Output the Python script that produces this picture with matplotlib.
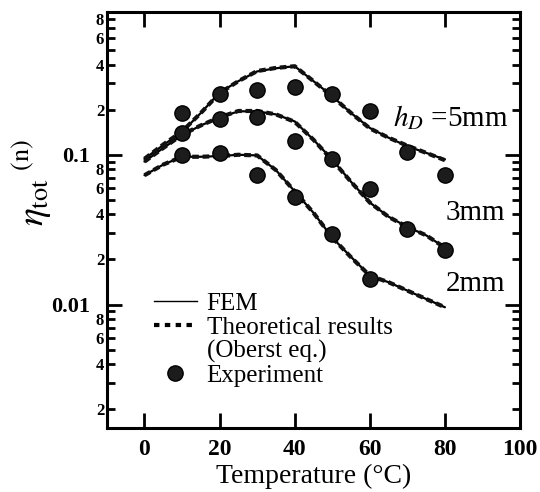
import numpy as np
import matplotlib
matplotlib.use("Agg")
import matplotlib.pyplot as plt
from matplotlib.lines import Line2D
from matplotlib.ticker import FixedLocator, FuncFormatter, LogLocator, NullLocator

plt.rcParams["font.family"] = ["Liberation Serif", "DejaVu Serif"]
plt.rcParams["mathtext.fontset"] = "stix"

# calculated curves (FEM and Oberst equation overlap in the figure)
curve_temp = [0, 5, 10, 15, 20, 25, 30, 35, 40, 45, 50, 55, 60, 65, 70, 75, 80]
fem_5mm = [0.094, 0.116, 0.142, 0.19, 0.26, 0.31, 0.36, 0.378, 0.39, 0.31, 0.246,
           0.19, 0.151, 0.13, 0.114, 0.103, 0.093]
fem_3mm = [0.090, 0.111, 0.135, 0.157, 0.177, 0.195, 0.195, 0.186, 0.167, 0.126,
           0.093, 0.066, 0.048, 0.0386, 0.033, 0.029, 0.024]
fem_2mm = [0.073, 0.086, 0.097, 0.097, 0.098, 0.100, 0.099, 0.079, 0.057, 0.041,
           0.028, 0.0208, 0.0156, 0.0141, 0.0124, 0.0109, 0.0096]
theory_5mm = [0.094, 0.117, 0.143, 0.19, 0.258, 0.31, 0.362, 0.38, 0.39, 0.31,
              0.245, 0.19, 0.150, 0.13, 0.115, 0.103, 0.092]
theory_3mm = [0.090, 0.111, 0.136, 0.157, 0.178, 0.196, 0.196, 0.186, 0.166, 0.126,
              0.092, 0.066, 0.048, 0.0385, 0.033, 0.029, 0.024]
theory_2mm = [0.073, 0.086, 0.097, 0.097, 0.098, 0.100, 0.099, 0.079, 0.057, 0.041,
              0.028, 0.0207, 0.0156, 0.0141, 0.0124, 0.0109, 0.0096]

# measured points
exp_temp = [10, 20, 30, 40, 50, 60, 70, 80]
exp_5mm = [0.19, 0.253, 0.27, 0.285, 0.253, 0.195, 0.105, 0.073]
exp_3mm = [0.14, 0.172, 0.18, 0.123, 0.094, 0.059, 0.032, 0.023]
exp_temp_2mm = [10, 20, 30, 40, 50, 60]
exp_2mm = [0.100, 0.103, 0.073, 0.0525, 0.0298, 0.0149]

labels = ["$h_D$ =5mm", "3mm", "2mm"]
label_pos = [(97, 0.177), (96, 0.041), (96, 0.0138)]

fig = plt.figure(figsize=(5.4, 4.92), dpi=100)
ax = fig.add_axes([0.198, 0.130, 0.765, 0.846])

for fem, theo in [(fem_5mm, theory_5mm), (fem_3mm, theory_3mm), (fem_2mm, theory_2mm)]:
    ax.plot(curve_temp, fem, color="black", lw=1.6, solid_capstyle="round")
    ax.plot(curve_temp, theo, color="#111111", lw=3.0, ls=(0, (1.6, 0.9)))

for t, v in [(exp_temp, exp_5mm), (exp_temp, exp_3mm), (exp_temp_2mm, exp_2mm)]:
    ax.plot(t, v, ls="none", marker="o", ms=11, mfc="#1c1c1c", mec="black", mew=1.0)

for text, (x, y) in zip(labels, label_pos):
    ax.text(x, y, text, ha="right", va="center", fontsize=21)

ax.set_yscale("log")
ax.set_xlim(-10, 100)
ax.set_ylim(0.0015, 0.9)

ax.xaxis.set_major_locator(FixedLocator([0, 20, 40, 60, 80, 100]))
ax.xaxis.set_minor_locator(NullLocator())
ax.yaxis.set_major_locator(FixedLocator([0.01, 0.1]))
ax.yaxis.set_minor_locator(LogLocator(base=10, subs=np.arange(2, 10)))
ax.yaxis.set_major_formatter(FuncFormatter(lambda v, p: f"{v:g}"))


def minor_label(v, pos):
    d = int(round(v / 10 ** np.floor(np.log10(v) + 1e-9)))
    return str(d) if d in (2, 4, 6, 8) else ""


ax.yaxis.set_minor_formatter(FuncFormatter(minor_label))

for s in ax.spines.values():
    s.set_linewidth(2.2)
ax.tick_params(which="both", direction="in", top=True, right=True, width=2.0)
ax.tick_params(which="major", length=11)
ax.tick_params(which="minor", length=6)
ax.tick_params(axis="x", which="major", labelsize=17, pad=8)
ax.tick_params(axis="y", which="major", labelsize=16, pad=12)
ax.tick_params(axis="y", which="minor", labelsize=12, pad=2)
for lab in ax.get_xticklabels() + ax.get_yticklabels() + ax.get_yticklabels(minor=True):
    lab.set_fontweight("bold")

ax.set_xlabel("Temperature (°C)", fontsize=20, labelpad=3)
fig.text(0.058, 0.628, r"$\eta_{\rm tot}\;{}^{\rm (n)}$", rotation=90,
         ha="center", va="center", fontsize=27)

handles = [
    Line2D([], [], color="black", lw=1.0),
    Line2D([], [], color="black", lw=3.0, ls=(0, (1.3, 1.3))),
    Line2D([], [], ls="none"),
    Line2D([], [], ls="none", marker="o", ms=11, mfc="#1c1c1c", mec="black"),
]
leg = ax.legend(handles, ["FEM", "Theoretical results", "(Oberst eq.)", "Experiment"],
                loc="upper left", bbox_to_anchor=(0.09, 0.35), frameon=False,
                fontsize=18, handlelength=1.7, handletextpad=0.4, labelspacing=0.05,
                borderaxespad=0.0)

fig.savefig("out.png", dpi=100)
